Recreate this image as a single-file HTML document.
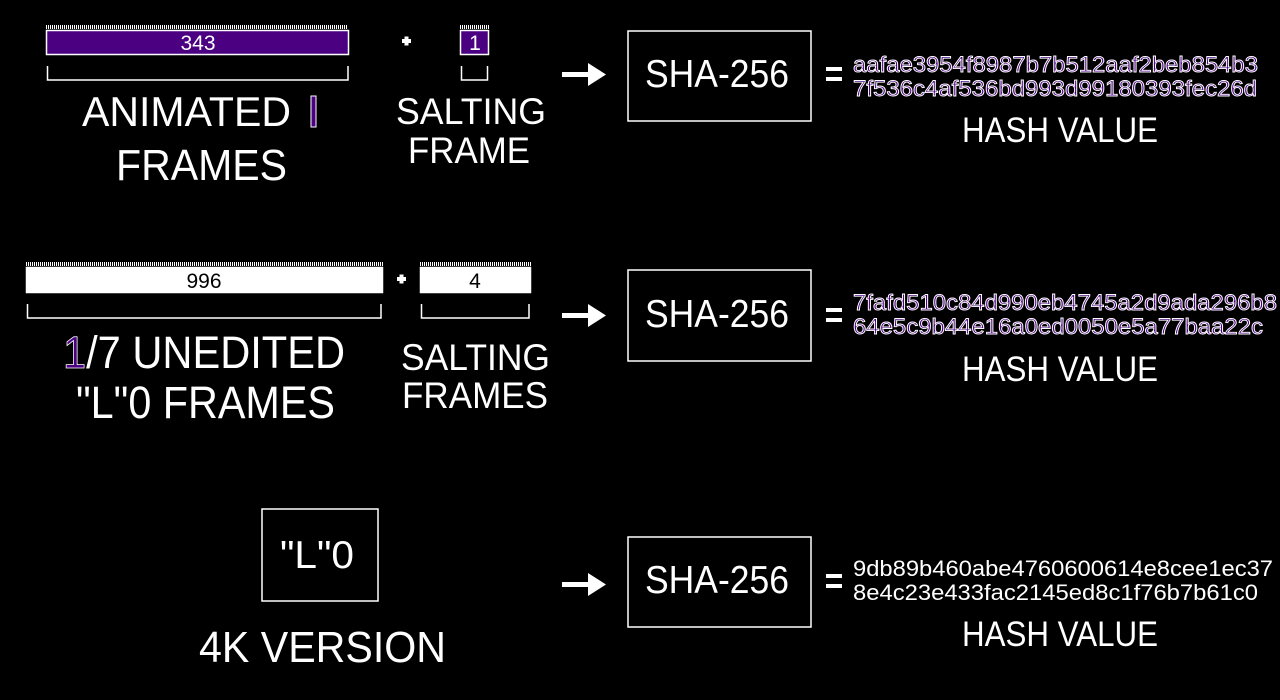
<!DOCTYPE html>
<html><head><style>html,body{margin:0;padding:0;background:#000;width:1280px;height:700px;overflow:hidden}</style></head>
<body>
<svg width="1280" height="700" viewBox="0 0 1280 700" xmlns="http://www.w3.org/2000/svg" font-family="Liberation Sans, sans-serif">
<defs>
<pattern id="h" width="2" height="4" patternUnits="userSpaceOnUse"><rect width="1" height="4" fill="#fff"/></pattern>
</defs>
<rect width="1280" height="700" fill="#000"/>
<g fill="none" stroke="#fff" stroke-width="1.5">
<rect x="46" y="25" width="302" height="4" fill="url(#h)" stroke="none"/>
<rect x="46.5" y="30.5" width="302" height="24" fill="#4b0082"/>
<polyline points="47.5,66 47.5,80 348,80 348,66"/>
<rect x="460" y="25" width="29" height="4" fill="url(#h)" stroke="none"/>
<rect x="460.5" y="30.5" width="28" height="24" fill="#4b0082"/>
<polyline points="461.5,66 461.5,80 487.5,80 487.5,66"/>
<rect x="26" y="262" width="357" height="4" fill="url(#h)" stroke="none"/>
<rect x="26.5" y="267.5" width="356" height="25" fill="#fff"/>
<polyline points="27.5,304 27.5,318 381,318 381,304"/>
<rect x="420" y="262" width="111" height="4" fill="url(#h)" stroke="none"/>
<rect x="420.5" y="267.5" width="110" height="25" fill="#fff"/>
<polyline points="421.5,304 421.5,318 529,318 529,304"/>
<rect x="628" y="31" width="183" height="90"/>
<rect x="628" y="270" width="183" height="91"/>
<rect x="628" y="537" width="183" height="90"/>
<rect x="262" y="509" width="116" height="92"/>
</g>
<g fill="#fff">
<rect x="402" y="39" width="9" height="4"/><rect x="404.5" y="36.5" width="4" height="9"/>
<rect x="397" y="277" width="9" height="4"/><rect x="399.5" y="274.5" width="4" height="9"/>
<rect x="562" y="72" width="26" height="5"/><polygon points="588,63 606,74.5 588,86"/>
<rect x="562" y="313" width="26" height="5"/><polygon points="588,304 606,315.5 588,327"/>
<rect x="562" y="582" width="26" height="5"/><polygon points="588,573 606,584.5 588,596"/>
<rect x="826" y="67" width="16" height="4"/><rect x="826" y="77" width="16" height="4"/>
<rect x="826" y="308" width="16" height="4"/><rect x="826" y="318" width="16" height="4"/>
<rect x="826" y="574" width="16" height="4"/><rect x="826" y="584" width="16" height="4"/>
</g>
<g fill="#fff" text-anchor="middle">
<text x="198" y="50" font-size="21">343</text>
<text x="475" y="50" font-size="21">1</text>
<text x="204" y="288" font-size="21" fill="#000">996</text>
<text x="475" y="288" font-size="21" fill="#000">4</text>
</g>
<g fill="#fff">
<text x="82" y="126" font-size="42" textLength="209" lengthAdjust="spacingAndGlyphs">ANIMATED</text>
<rect x="311" y="96" width="5" height="31" fill="#4b0082" stroke="#fff" stroke-width="1"/>
<text x="116" y="180" font-size="44" textLength="171" lengthAdjust="spacingAndGlyphs">FRAMES</text>
<text x="396" y="124" font-size="37" textLength="150" lengthAdjust="spacingAndGlyphs">SALTING</text>
<text x="408" y="163" font-size="37" textLength="122" lengthAdjust="spacingAndGlyphs">FRAME</text>
<text x="63" y="368" font-size="45" textLength="282" lengthAdjust="spacingAndGlyphs"><tspan fill="#4b0082" stroke="#fff" stroke-width="0.8">1</tspan>/7 UNEDITED</text>
<text x="76" y="418" font-size="45" textLength="259" lengthAdjust="spacingAndGlyphs">"L"0 FRAMES</text>
<text x="401" y="370" font-size="37" textLength="149" lengthAdjust="spacingAndGlyphs">SALTING</text>
<text x="402" y="408" font-size="37" textLength="146" lengthAdjust="spacingAndGlyphs">FRAMES</text>
<text x="280" y="568" font-size="39" textLength="74" lengthAdjust="spacingAndGlyphs">"L"0</text>
<text x="199" y="662" font-size="44" textLength="247" lengthAdjust="spacingAndGlyphs">4K VERSION</text>
<text x="645" y="87" font-size="39" textLength="144" lengthAdjust="spacingAndGlyphs">SHA-256</text>
<text x="645" y="327" font-size="39" textLength="144" lengthAdjust="spacingAndGlyphs">SHA-256</text>
<text x="645" y="593" font-size="39" textLength="144" lengthAdjust="spacingAndGlyphs">SHA-256</text>
<text x="962" y="142" font-size="35" textLength="196" lengthAdjust="spacingAndGlyphs">HASH VALUE</text>
<text x="962" y="381" font-size="35" textLength="196" lengthAdjust="spacingAndGlyphs">HASH VALUE</text>
<text x="962" y="646" font-size="35" textLength="196" lengthAdjust="spacingAndGlyphs">HASH VALUE</text>
<text x="853" y="576" font-size="22" textLength="420" lengthAdjust="spacingAndGlyphs">9db89b460abe4760600614e8cee1ec37</text>
<text x="853" y="600" font-size="22" textLength="405" lengthAdjust="spacingAndGlyphs">8e4c23e433fac2145ed8c1f76b7b61c0</text>
</g>
<g fill="#4b0082" stroke="#fff" stroke-width="0.9" font-size="22">
<text x="853" y="72" textLength="405" lengthAdjust="spacingAndGlyphs">aafae3954f8987b7b512aaf2beb854b3</text>
<text x="853" y="96" textLength="404" lengthAdjust="spacingAndGlyphs">7f536c4af536bd993d99180393fec26d</text>
<text x="853" y="310" textLength="424" lengthAdjust="spacingAndGlyphs">7fafd510c84d990eb4745a2d9ada296b8</text>
<text x="853" y="334" textLength="410" lengthAdjust="spacingAndGlyphs">64e5c9b44e16a0ed0050e5a77baa22c</text>
</g>
</svg>
</body></html>
